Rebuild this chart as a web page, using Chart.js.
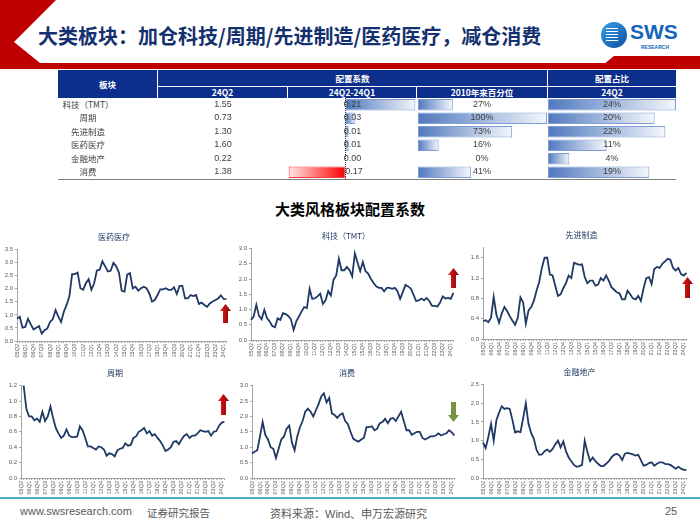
<!DOCTYPE html>
<html>
<head>
<meta charset="utf-8">
<script src="https://cdn.jsdelivr.net/npm/chart.js@4.4.1/dist/chart.umd.min.js"></script>
<style>
  body { margin: 0; background: #fff; }
  #slide { position: relative; width: 700px; height: 525px; overflow: hidden;
           font-family: "Noto Sans CJK SC", "Liberation Sans", sans-serif; }
  .abs { position: absolute; }
  .hd { position: absolute; background: #0d2f8c; color: #fff; font-weight: bold;
        font-size: 8.5px; text-align: center; }
  .cell { position: absolute; text-align: center; color: #404040; font-size: 9px;
          font-family: "Liberation Sans", "Noto Sans CJK SC", sans-serif; z-index: 5; }
  .name { font-family: "Noto Sans CJK SC", sans-serif; font-size: 8.5px; }
  .foot { position: absolute; top: 505px; font-size: 11px; color: #595959;
          font-family: "Liberation Sans", "Noto Sans CJK SC", sans-serif; }
  canvas { position: absolute; }
</style>
</head>
<body>
<div id="slide">
  <!-- header decoration -->
  <svg class="abs" style="left:0;top:0" width="700" height="72">
    <polygon points="0,0 56,0 14,42 40,63 0,63" fill="#c00000"/>
    <rect x="0" y="63" width="700" height="6" fill="#c00000"/>
    <polygon points="598,69 614,56 700,56 700,69" fill="#c00000"/>
  </svg>
  <div class="abs" style="left:38px;top:21px;font-size:20px;font-weight:bold;color:#14306e;white-space:nowrap;">大类板块：加仓科技/周期/先进制造/医药医疗，减仓消费</div>
  <!-- logo -->
  <div class="abs" style="left:601px;top:22px;width:26px;height:26px;border-radius:50%;background:linear-gradient(135deg,#3aa0e8,#0b4fa0);"></div>
  <div class="abs" style="left:606px;top:28px;width:12px;height:14px;background:repeating-linear-gradient(#fff 0 1px,transparent 1px 3px);"></div>
  <div class="abs" style="left:630px;top:20px;font-size:21px;font-weight:bold;color:#1565b8;font-family:'Liberation Sans',sans-serif;">SWS</div>
  <div class="abs" style="left:641px;top:44px;font-size:5px;font-weight:bold;color:#1565b8;font-family:'Liberation Sans',sans-serif;">RESEARCH</div>

  <!-- table header -->
  <div class="hd" style="left:58px;top:70px;width:99px;height:28px;line-height:28px;">板块</div>
  <div class="hd" style="left:158px;top:70px;width:389px;height:16px;line-height:16px;">配置系数</div>
  <div class="hd" style="left:548px;top:70px;width:128px;height:16px;line-height:16px;">配置占比</div>
  <div class="hd" style="left:158px;top:87px;width:129px;height:11px;line-height:11px;">24Q2</div>
  <div class="hd" style="left:288px;top:87px;width:128px;height:11px;line-height:11px;">24Q2-24Q1</div>
  <div class="hd" style="left:417px;top:87px;width:130px;height:11px;line-height:11px;">2010年来百分位</div>
  <div class="hd" style="left:548px;top:87px;width:128px;height:11px;line-height:11px;">24Q2</div>
  <div class="abs" style="left:58px;top:179px;width:618px;height:1px;background:#7f7f7f;"></div>
  <div id="tableText"></div>

  <canvas id="chgChart" width="129" height="81" style="left:288px;top:98px;"></canvas>
  <canvas id="pctChart" width="129" height="81" style="left:418px;top:98px;"></canvas>
  <canvas id="shareChart" width="128" height="81" style="left:548px;top:98px;"></canvas>

  <div class="abs" style="left:0;width:700px;top:198px;text-align:center;font-size:15px;font-weight:bold;color:#000;">大类风格板块配置系数</div>

  <canvas id="c1" width="234" height="132" style="left:0px;top:226px;"></canvas>
  <canvas id="c2" width="228" height="132" style="left:233px;top:225px;"></canvas>
  <canvas id="c3" width="224" height="132" style="left:470px;top:224px;"></canvas>
  <canvas id="c4" width="232" height="133" style="left:0px;top:362px;"></canvas>
  <canvas id="c5" width="228" height="133" style="left:234px;top:362px;"></canvas>
  <canvas id="c6" width="228" height="134" style="left:466px;top:361px;"></canvas>

  <!-- arrows -->
  <svg class="abs" style="left:0;top:0;z-index:6" width="700" height="525">
    <defs>
      <linearGradient id="red" x1="0" x2="1" y1="0" y2="0">
        <stop offset="0" stop-color="#e02020"/><stop offset="1" stop-color="#8a0000"/>
      </linearGradient>
    </defs>
    <polygon points="225.5,304 231,311 228,311 228,323 223,323 223,311 220,311" fill="url(#red)"/>
    <polygon points="453.5,268 459,275 456,275 456,288 451,288 451,275 448,275" fill="url(#red)"/>
    <polygon points="687.5,277 693,284 690,284 690,298 685,298 685,284 682,284" fill="url(#red)"/>
    <polygon points="223.5,394 229,401 226,401 226,415 221,415 221,401 218,401" fill="url(#red)"/>
    <polygon points="453.5,422 459,415 456,415 456,402 451,402 451,415 448,415" fill="#77933c"/>
  </svg>

  <!-- footer -->
  <div class="abs" style="left:0;top:497px;width:700px;height:2px;background:#4bacc6;"></div>
  <div class="foot" style="left:20px;">www.swsresearch.com</div>
  <div class="foot" style="left:147px;font-size:10.5px;">证券研究报告</div>
  <div class="foot" style="left:270px;">资料来源：Wind、申万宏源研究</div>
  <div class="foot" style="left:665px;">25</div>
</div>

<script>
// table data
const sectors = ['科技（TMT）', '周期', '先进制造', '医药医疗', '金融地产', '消费'];
const coef24Q2 = [1.55, 0.73, 1.30, 1.60, 0.22, 1.38];
const coefChg = [0.21, 0.03, 0.01, 0.01, 0.00, -0.17];
const pctSince2010 = [0.27, 1.00, 0.73, 0.16, 0.00, 0.41];
const share24Q2 = [0.24, 0.20, 0.22, 0.11, 0.04, 0.19];

// quarterly categories for the line charts
const quarters = [
  '05Q2','05Q3','05Q4',
  '06Q1','06Q2','06Q3','06Q4','07Q1','07Q2','07Q3','07Q4',
  '08Q1','08Q2','08Q3','08Q4','09Q1','09Q2','09Q3','09Q4',
  '10Q1','10Q2','10Q3','10Q4','11Q1','11Q2','11Q3','11Q4',
  '12Q1','12Q2','12Q3','12Q4','13Q1','13Q2','13Q3','13Q4',
  '14Q1','14Q2','14Q3','14Q4','15Q1','15Q2','15Q3','15Q4',
  '16Q1','16Q2','16Q3','16Q4','17Q1','17Q2','17Q3','17Q4',
  '18Q1','18Q2','18Q3','18Q4','19Q1','19Q2','19Q3','19Q4',
  '20Q1','20Q2','20Q3','20Q4','21Q1','21Q2','21Q3','21Q4',
  '22Q1','22Q2','22Q3','22Q4','23Q1','23Q2','23Q3','23Q4',
  '24Q1','24Q2'
];

const medical = [0.86,0.93,0.51,0.54,0.85,0.64,0.44,0.51,0.57,0.28,
  0.41,0.48,0.73,0.84,1.18,0.93,0.73,1.12,1.38,1.70,
  2.56,2.56,2.62,2.02,1.96,2.21,2.37,1.96,2.21,2.70,
  2.73,3.05,2.86,2.66,2.69,2.99,2.86,2.62,1.92,1.89,
  2.54,2.60,2.02,2.08,1.93,2.02,2.08,2.02,1.83,1.51,
  1.57,1.76,1.98,1.98,2.02,1.96,1.96,2.06,1.80,2.11,
  2.11,1.63,1.63,1.76,1.72,1.76,1.42,1.47,1.38,1.31,
  1.44,1.51,1.57,1.63,1.75,1.61,1.60];
const tech = [0.66,0.77,1.16,0.79,0.68,0.99,0.72,0.61,0.46,0.42,
  0.71,0.66,0.88,0.85,0.79,0.68,0.33,0.61,0.77,0.94,
  1.08,1.05,1.68,1.35,1.37,1.43,1.52,1.18,1.30,1.61,
  1.46,1.98,2.12,2.67,2.29,2.29,2.40,2.29,2.09,2.84,
  2.54,2.26,2.56,2.26,2.18,2.01,1.87,1.76,1.71,1.71,
  1.60,1.71,1.71,1.68,1.71,1.60,1.35,1.57,1.81,1.76,
  1.69,1.49,1.28,1.30,1.36,1.30,1.38,1.27,1.12,1.12,
  1.10,1.23,1.43,1.36,1.38,1.35,1.55];
const advMfg = [0.35,0.37,0.33,0.42,0.83,0.48,0.32,0.50,0.63,0.55,
  0.45,0.36,0.28,0.42,0.82,0.72,0.30,0.56,0.63,0.75,
  0.95,1.12,1.40,1.60,1.60,1.27,1.25,1.05,0.85,0.88,
  1.00,1.10,1.25,1.20,1.50,1.48,1.46,1.47,1.22,1.10,
  1.15,1.15,1.05,1.07,1.20,1.15,1.25,1.15,1.02,0.97,
  0.92,0.90,0.78,0.78,0.95,0.88,0.80,0.78,0.85,0.75,
  1.00,1.20,1.22,1.08,1.38,1.42,1.40,1.48,1.53,1.58,
  1.56,1.40,1.35,1.40,1.28,1.25,1.30];
const cyclical = [1.35,1.20,0.90,0.80,0.80,0.75,0.77,0.73,0.86,0.74,
  0.80,0.93,0.78,0.65,0.58,0.52,0.55,0.63,0.55,0.53,
  0.53,0.54,0.67,0.62,0.52,0.41,0.41,0.39,0.37,0.41,
  0.40,0.37,0.29,0.32,0.31,0.28,0.36,0.38,0.39,0.45,
  0.42,0.43,0.52,0.54,0.60,0.62,0.65,0.58,0.61,0.55,
  0.57,0.52,0.48,0.42,0.35,0.37,0.40,0.47,0.48,0.44,
  0.50,0.55,0.57,0.52,0.55,0.55,0.58,0.62,0.61,0.60,
  0.61,0.55,0.60,0.61,0.68,0.72,0.73];
const consumer = [0.80,0.85,0.90,1.35,1.82,1.40,1.25,1.00,0.95,0.65,
  0.95,1.25,1.35,1.60,1.70,1.15,0.90,1.35,1.65,1.85,
  2.15,2.25,2.15,2.00,2.20,2.40,2.65,2.75,2.45,2.60,
  2.10,2.05,1.95,2.05,2.10,1.85,1.75,1.50,1.28,1.22,
  1.18,1.25,1.30,1.65,1.65,1.68,1.55,1.60,1.78,1.82,
  1.92,1.78,1.92,1.95,1.85,2.00,2.15,1.85,1.55,1.55,
  1.40,1.45,1.50,1.50,1.30,1.25,1.30,1.35,1.35,1.38,
  1.45,1.38,1.42,1.45,1.55,1.48,1.38];
const finance = [0.95,0.80,1.10,1.45,1.00,1.55,1.75,1.92,1.85,1.87,
  1.85,1.55,1.22,1.25,1.23,1.60,2.00,1.45,1.20,1.05,
  0.75,0.62,0.63,0.72,0.76,0.70,0.78,0.90,1.00,0.82,
  0.98,0.72,0.55,0.45,0.35,0.30,0.32,0.35,1.00,0.70,
  0.45,0.55,0.45,0.38,0.32,0.32,0.38,0.45,0.55,0.62,
  0.65,0.60,0.48,0.65,0.67,0.65,0.63,0.60,0.62,0.48,
  0.33,0.35,0.40,0.42,0.33,0.38,0.42,0.42,0.38,0.37,
  0.35,0.30,0.25,0.30,0.25,0.22,0.22];

Chart.defaults.font.family = '"Liberation Sans", "Noto Sans CJK SC", sans-serif';
Chart.defaults.animation = false;

// table texts
const rowTop = 98, rowH = 13.4;
const holder = document.getElementById('tableText');
function addCell(txt, left, width, i, cls) {
  const d = document.createElement('div');
  d.className = 'cell' + (cls ? ' ' + cls : '');
  d.textContent = txt;
  d.style.left = left + 'px';
  d.style.width = width + 'px';
  d.style.top = (rowTop + rowH * i) + 'px';
  d.style.height = rowH + 'px';
  d.style.lineHeight = rowH + 'px';
  holder.appendChild(d);
}
sectors.forEach((s, i) => {
  addCell(s, 40, 96, i, 'name');
  addCell(coef24Q2[i].toFixed(2), 158, 130, i);
  addCell(coefChg[i].toFixed(2), 288, 129, i);
  addCell(Math.round(pctSince2010[i] * 100) + '%', 417, 130, i);
  addCell(Math.round(share24Q2[i] * 100) + '%', 548, 128, i);
});

// gradient data bars in the table
function barFill(pos, neg) {
  return function(context) {
    const chart = context.chart;
    if (!chart.chartArea) return pos[0];
    const xs = chart.scales.x;
    const v = context.raw;
    const x0 = xs.getPixelForValue(0);
    const x1 = xs.getPixelForValue(v);
    const c = v < 0 ? neg : pos;
    const g = chart.ctx.createLinearGradient(x0, 0, x1 === x0 ? x0 + 1 : x1, 0);
    g.addColorStop(0, c[0]);
    g.addColorStop(1, c[1]);
    return g;
  };
}
const zeroLine = {
  id: 'zeroLine',
  afterDatasetsDraw(chart) {
    const x = chart.scales.x.getPixelForValue(0);
    const ctx = chart.ctx;
    ctx.save();
    ctx.strokeStyle = '#333';
    ctx.lineWidth = 1;
    ctx.setLineDash([1, 1]);
    ctx.beginPath();
    ctx.moveTo(Math.round(x) + 0.5, chart.chartArea.top);
    ctx.lineTo(Math.round(x) + 0.5, chart.chartArea.bottom);
    ctx.stroke();
    ctx.restore();
  }
};
function dataBars(id, values, min, max, plugins) {
  new Chart(document.getElementById(id), {
    type: 'bar',
    data: {
      labels: sectors,
      datasets: [{
        data: values,
        backgroundColor: barFill(['#4f78be', '#f4f7fc'], ['#ff0000', '#ffe6e6']),
        borderColor: values.map(v => v < 0 ? '#ff4040' : '#7f9dd2'),
        borderWidth: 1,
        borderSkipped: false,
        barPercentage: 0.85,
        categoryPercentage: 1
      }]
    },
    options: {
      indexAxis: 'y',
      responsive: false,
      layout: { padding: 0 },
      plugins: { legend: { display: false }, tooltip: { enabled: false } },
      scales: {
        x: { display: false, min: min, max: max },
        y: { display: false }
      }
    },
    plugins: plugins || []
  });
}
dataBars('chgChart', coefChg, -0.172, 0.215, [zeroLine]);
dataBars('pctChart', pctSince2010, 0, 1);
dataBars('shareChart', share24Q2, 0, 0.24);

// small line charts
function lineChart(id, title, values, yMax, yStep, yW, padR) {
  new Chart(document.getElementById(id), {
    type: 'line',
    data: {
      labels: quarters,
      datasets: [{
        data: values,
        borderColor: '#1f3864',
        borderWidth: 1.8,
        pointRadius: 0,
        tension: 0
      }]
    },
    options: {
      responsive: false,
      layout: { padding: { top: 2, right: padR, left: 0, bottom: 0 } },
      plugins: {
        legend: { display: false },
        tooltip: { enabled: false },
        title: {
          display: true, text: title, color: '#1f3864',
          font: { family: '"Noto Sans CJK SC", sans-serif', size: 8, weight: 'normal' },
          padding: { top: 4, bottom: 8 }
        }
      },
      scales: {
        x: {
          offset: false,
          grid: { display: true, drawOnChartArea: false, tickLength: 2, color: '#a6a6a6' },
          border: { color: '#a6a6a6' },
          ticks: {
            autoSkip: false, minRotation: 90, maxRotation: 90, padding: 1,
            color: '#595959', font: { size: 5.5 },
            callback: (v, i) => i % 3 === 0 ? quarters[i] : ''
          },
          afterFit: s => { s.height = 17; }
        },
        y: {
          min: 0, max: yMax,
          grid: { display: true, drawOnChartArea: false, tickLength: 2, color: '#a6a6a6' },
          border: { color: '#a6a6a6' },
          ticks: {
            stepSize: yStep, padding: 2, color: '#595959', font: { size: 6 },
            callback: v => v.toFixed(1)
          },
          afterFit: s => { s.width = yW; }
        }
      }
    }
  });
}
lineChart('c1', '医药医疗', medical, 3.5, 0.5, 17, 6);
lineChart('c2', '科技（TMT）', tech, 3.0, 0.5, 18, 2);
lineChart('c3', '先进制造', advMfg, 1.8, 0.2, 13, 1);
lineChart('c4', '周期', cyclical, 1.2, 0.2, 21, 2);
lineChart('c5', '消费', consumer, 3.0, 0.5, 18, 2);
lineChart('c6', '金融地产', finance, 2.5, 0.5, 17, 1);
</script>
</body>
</html>
